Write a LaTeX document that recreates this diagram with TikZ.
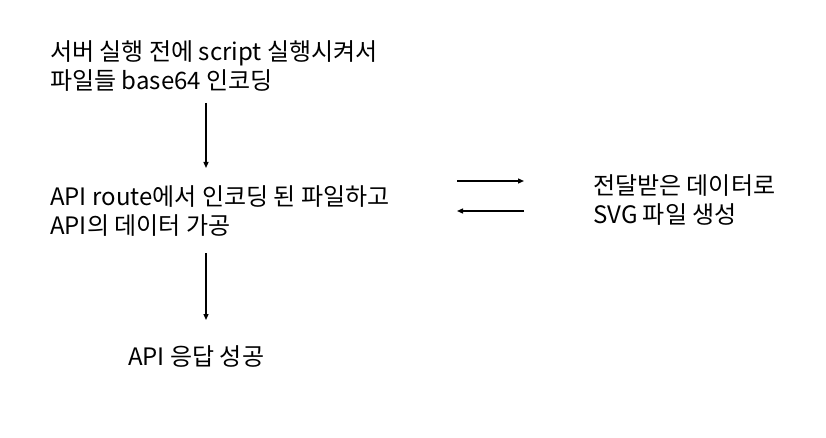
\documentclass[tikz,border=0pt]{standalone}
\usepackage{fontspec}
\setmainfont{Noto Sans CJK KR}
\usetikzlibrary{arrows.meta, positioning}

\begin{document}
\begin{tikzpicture}[
    x=1pt, y=-1pt,
    every node/.style={font=\fontsize{24}{29}\selectfont},
    txt/.style={inner sep=0pt, anchor=west, align=left},
    arr/.style={-{Triangle[length=6pt, width=5pt]}, line width=1.3pt},
]
    \useasboundingbox (0,0) rectangle (826,438);

    % Text blocks
    \node[txt] (prep) at (50,66) {서버 실행 전에 script 실행시켜서\\파일들 base64 인코딩};
    \node[txt] (route) at (50,211) {API route에서 인코딩 된 파일하고\\API의 데이터 가공};
    \node[txt] (svg) at (593,200) {전달받은 데이터로\\SVG 파일 생성};
    \node[txt] (resp) at (128,357) {API 응답 성공};

    % Ends of the side arrows
    \coordinate (toL) at (457,181);
    \coordinate (toR) at (524,181);
    \coordinate (backR) at (524,211);
    \coordinate (backL) at (457,211);

    % Arrows
    \draw[arr] (206,103) coordinate (a1) -- (206,168) coordinate (a2);
    \draw[arr] (206,253) coordinate (b1) -- (206,320) coordinate (b2);
    \draw[arr] (toL) -- (toR);
    \draw[arr] (backR) -- (backL);
\end{tikzpicture}
\end{document}
